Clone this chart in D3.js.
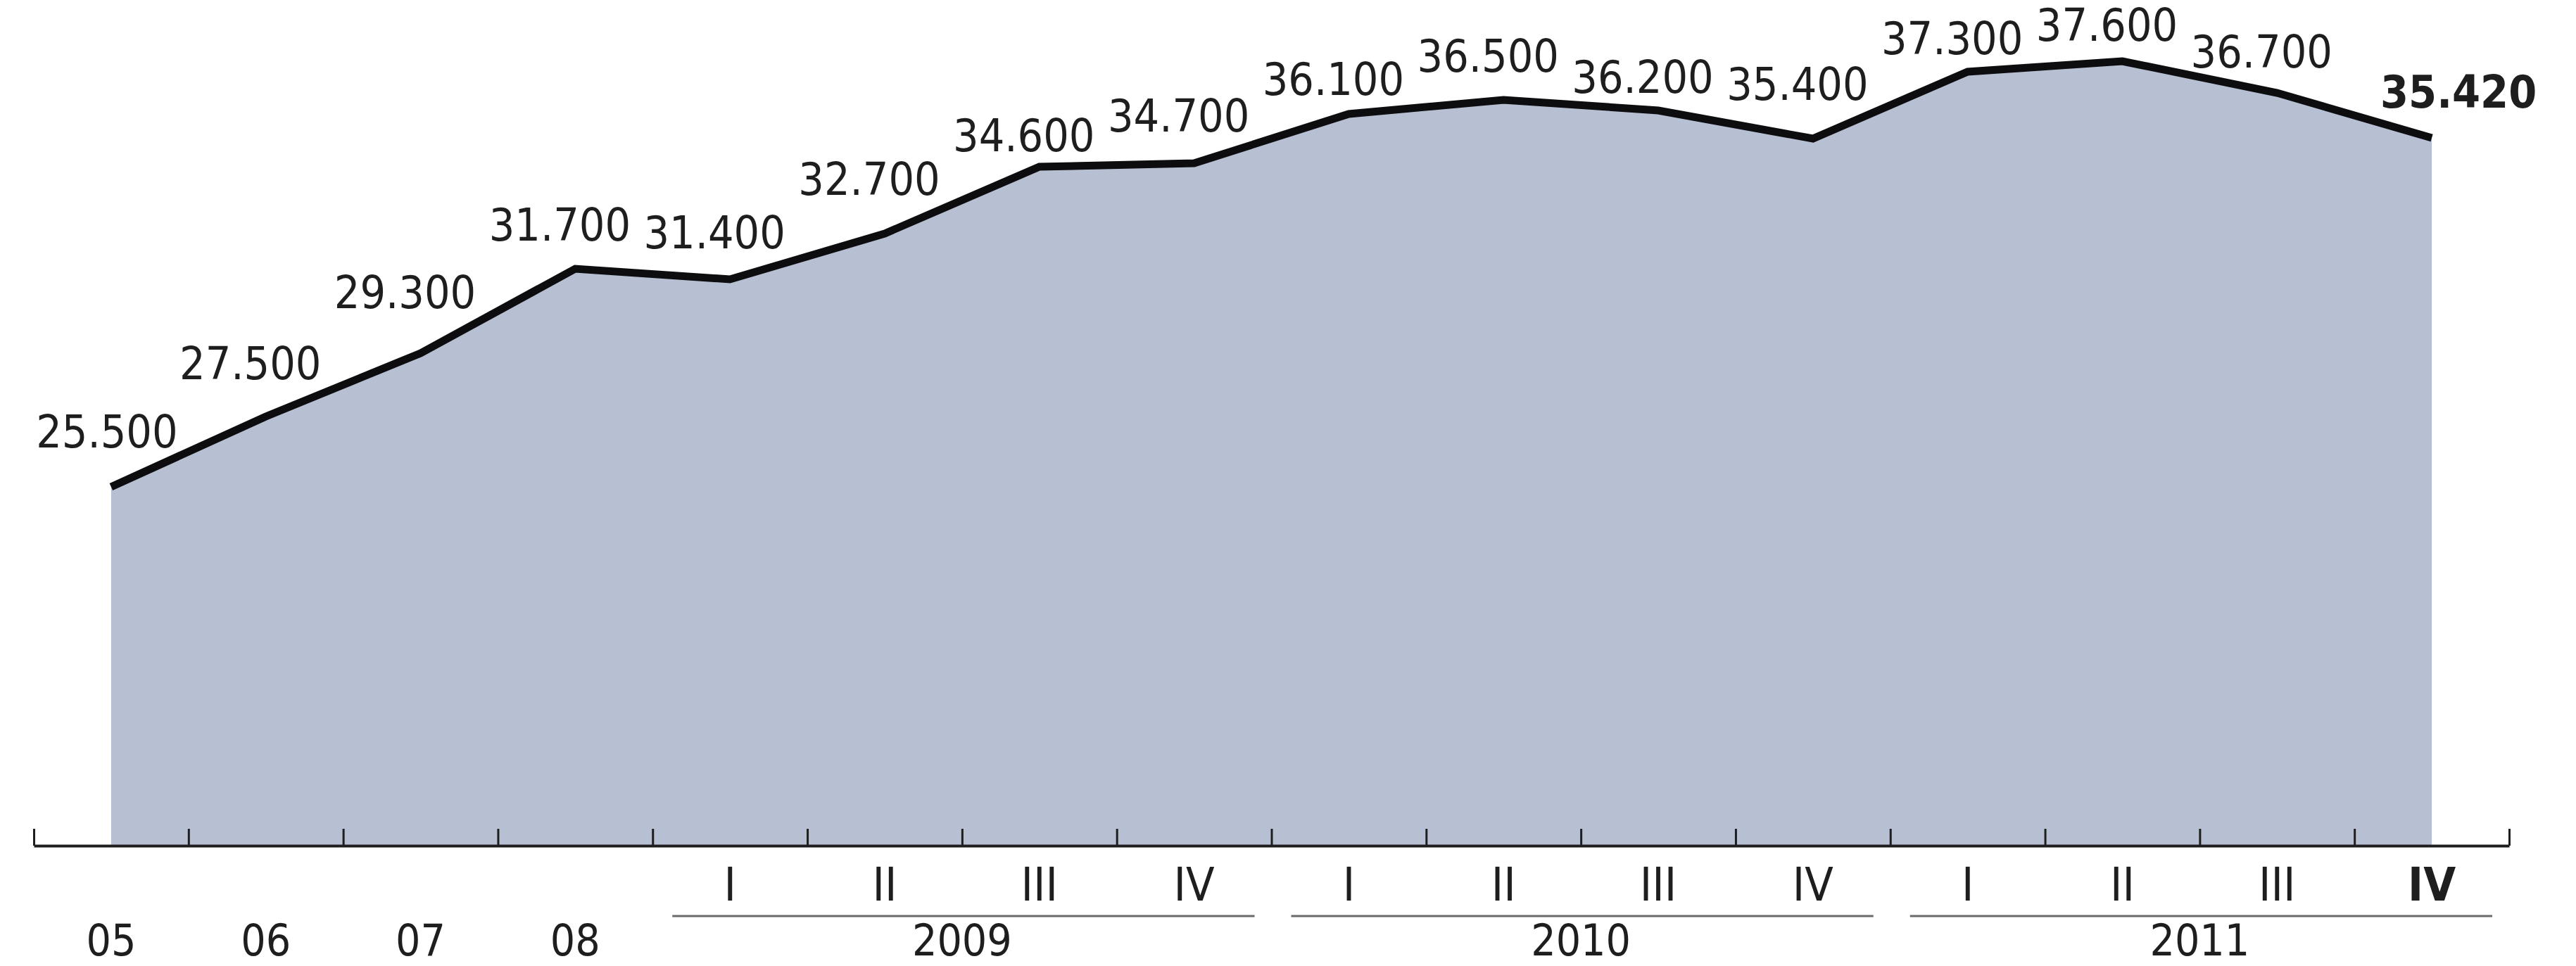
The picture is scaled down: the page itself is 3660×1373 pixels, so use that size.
<!DOCTYPE html>
<html>
<head>
<meta charset="utf-8">
<script src="https://cdn.jsdelivr.net/npm/d3@7"></script>
<style>
  html, body { margin: 0; padding: 0; background: #ffffff; }
  svg { display: block; }
  text { font-family: "DejaVu Sans Condensed", "DejaVu Sans", sans-serif; fill: #1e1e1e; }
</style>
</head>
<body>
<svg id="chart" width="3660" height="1373"></svg>
<script>
// ---- data ----
const periodLabels = ["05", "06", "07", "08",
  "I", "II", "III", "IV",
  "I", "II", "III", "IV",
  "I", "II", "III", "IV"];
const values = [25500, 27500, 29300, 31700, 31400, 32700, 34600, 34700,
  36100, 36500, 36200, 35400, 37300, 37600, 36700, 35420];
const annualCount = 4;            // first four periods are whole years
const quarterYears = ["2009", "2010", "2011"];
const yDomain = [15300, 37600];

// ---- layout ----
const W = 3660, H = 1373;
const axisY = 1202, topY = 87;
const xLeft = 48, xRight = 3565;

const svg = d3.select("#chart");
svg.append("rect").attr("width", W).attr("height", H).attr("fill", "#ffffff");

const idx = d3.range(values.length);
const x = d3.scaleBand().domain(idx).range([xLeft, xRight]).paddingInner(0).paddingOuter(0);
const cx = i => x(i) + x.bandwidth() / 2;
const y = d3.scaleLinear().domain(yDomain).range([axisY, topY]);

const loc = d3.formatLocale({decimal: ",", thousands: ".", grouping: [3], currency: ["", "€"]});
const fmt = loc.format(",");

// area
const area = d3.area().x((d, i) => cx(i)).y0(axisY).y1(d => y(d));
svg.append("path").datum(values).attr("d", area).attr("fill", "#b7bfd2");

// line
const line = d3.line().x((d, i) => cx(i)).y(d => y(d));
svg.append("path").datum(values).attr("d", line)
  .attr("fill", "none").attr("stroke", "#0d0d10").attr("stroke-width", 11)
  .attr("stroke-linejoin", "miter");

// axis with upward ticks at period boundaries
const xb = d3.scaleLinear().domain([0, values.length]).range([xLeft, xRight]);
const axis = d3.axisTop(xb).tickValues(d3.range(values.length + 1))
  .tickSize(24).tickSizeOuter(0).tickFormat("");
const gAxis = svg.append("g").attr("transform", `translate(0,${axisY})`).call(axis);
gAxis.select(".domain").attr("stroke", "#1e1e1e").attr("stroke-width", 4);
gAxis.selectAll(".tick line").attr("stroke", "#1e1e1e").attr("stroke-width", 3);

// value labels: placed above the highest part of the line near each point
const span = 80 / x.bandwidth();
function labelBase(i) {
  let m = y(values[i]);
  if (i > 0) m = Math.min(m, y(values[i]) + (y(values[i - 1]) - y(values[i])) * span);
  if (i < values.length - 1) m = Math.min(m, y(values[i]) + (y(values[i + 1]) - y(values[i])) * span);
  const isPeak = (i > 0 && i < values.length - 1 && values[i] > values[i - 1] && values[i] > values[i + 1]);
  return Math.max(58, m - 20 - (isPeak ? 20 : 0));
}
const last = values.length - 1;
svg.append("g").selectAll("text").data(values).join("text")
  .attr("x", (d, i) => cx(i) + (i === last ? 38 : (i === 0 ? -6 : -22)))
  .attr("y", (d, i) => labelBase(i))
  .attr("text-anchor", "middle")
  .attr("font-size", 64)
  .attr("font-weight", (d, i) => i === last ? "bold" : "normal")
  .text(d => fmt(d));

// period labels
svg.append("g").selectAll("text").data(periodLabels).join("text")
  .attr("x", (d, i) => cx(i))
  .attr("y", (d, i) => i < annualCount ? 1358 : 1280)
  .attr("text-anchor", "middle")
  .attr("font-size", (d, i) => i < annualCount ? 62 : 66)
  .attr("font-weight", (d, i) => i === last ? "bold" : "normal")
  .text(d => d);

// year groups for quarterly periods
const groups = quarterYears.map((yr, k) => ({
  yr, start: annualCount + k * 4, end: annualCount + k * 4 + 4
}));
const gY = svg.append("g");
gY.selectAll("line").data(groups).join("line")
  .attr("x1", d => xb(d.start) + 28).attr("x2", d => xb(d.end) - 24)
  .attr("y1", 1302).attr("y2", 1302)
  .attr("stroke", "#6a6a6a").attr("stroke-width", 3);
gY.selectAll("text").data(groups).join("text")
  .attr("x", d => (xb(d.start) + xb(d.end)) / 2)
  .attr("y", 1358)
  .attr("text-anchor", "middle")
  .attr("font-size", 62)
  .text(d => d.yr);
</script>
</body>
</html>
